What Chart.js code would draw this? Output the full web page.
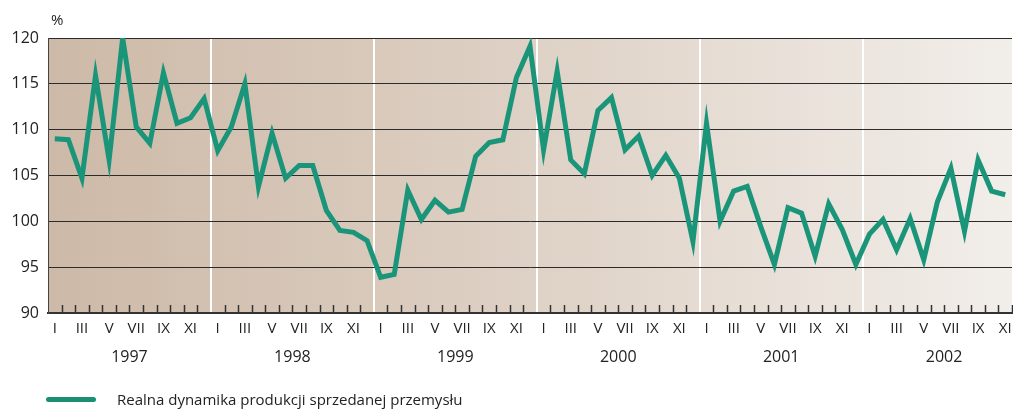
<!DOCTYPE html>
<html>
<head>
<meta charset="utf-8">
<script src="https://cdn.jsdelivr.net/npm/chart.js@4"></script>
<style>
  html, body { margin: 0; padding: 0; background: #fff; }
  #wrap { position: relative; width: 1013px; height: 410px; }
  canvas { position: absolute; left: 0; top: 0; }
  #pct { position: absolute; left: 51px; top: 9px; font: 15px "Open Sans", sans-serif; color: #222; }
  #legend { position: absolute; left: 46px; top: 389px; font: 15px "Open Sans", sans-serif; color: #222; display: flex; align-items: center; }
  #legend .sw { width: 50px; height: 5px; border-radius: 3px; background: #1b8f75; margin-right: 21px; }
</style>
</head>
<body>
<div id="wrap">
  <canvas id="c" width="1013" height="410"></canvas>
  <div id="pct">%</div>
  <div id="legend"><span class="sw"></span><span>Realna dynamika produkcji sprzedanej przemysłu</span></div>
</div>
<script>
const years = ["1997", "1998", "1999", "2000", "2001", "2002"];
const monthNames = ["I","II","III","IV","V","VI","VII","VIII","IX","X","XI","XII"];
const seriesName = "Realna dynamika produkcji sprzedanej przemysłu";
const v1997 = [109.0, 108.9, 104.7, 115.9, 106.7, 120.0, 110.3, 108.5, 116.2, 110.7, 111.3, 113.4];
const v1998 = [107.7, 110.3, 115.0, 103.8, 109.6, 104.7, 106.1, 106.1, 101.2, 99.0, 98.8, 97.9];
const v1999 = [93.9, 94.2, 103.4, 100.2, 102.3, 101.0, 101.3, 107.1, 108.6, 108.9, 115.7, 119.1];
const v2000 = [107.8, 116.4, 106.7, 105.2, 112.1, 113.5, 107.8, 109.3, 105.0, 107.2, 104.7, 97.8];
const v2001 = [110.7, 100.0, 103.3, 103.8, 99.4, 95.3, 101.5, 100.9, 96.2, 101.9, 99.1, 95.3];
const v2002 = [98.6, 100.2, 96.9, 100.3, 95.8, 102.1, 105.8, 98.9, 106.7, 103.3, 102.9];
const yTicks = [90, 95, 100, 105, 110, 115, 120];

const values = [].concat(v1997, v1998, v1999, v2000, v2001, v2002);
const labels = values.map((_, i) => monthNames[i % 12]);

const bgPlugin = {
  id: 'bg',
  beforeDraw(chart) {
    const {ctx, chartArea: a} = chart;
    const g = ctx.createLinearGradient(a.left, 0, a.right, 0);
    g.addColorStop(0, '#cdb9a7');
    g.addColorStop(0.5, '#ded1c5');
    g.addColorStop(1, '#f2eeea');
    ctx.save();
    ctx.fillStyle = g;
    ctx.fillRect(a.left, a.top, a.right - a.left, a.bottom - a.top);
    ctx.restore();
  }
};

const decoPlugin = {
  id: 'deco',
  afterDraw(chart) {
    const {ctx, chartArea: a} = chart;
    const x = chart.scales.x;
    const n = values.length;
    const half = (x.getPixelForValue(1) - x.getPixelForValue(0)) / 2;
    ctx.save();
    // small tick marks at month boundaries
    ctx.strokeStyle = '#333';
    ctx.lineWidth = 1.5;
    for (let i = 1; i <= n; i++) {
      if (i % 12 === 0) continue;
      const px = Math.round(x.getPixelForValue(i - 1) + half) + 0.5;
      ctx.beginPath();
      ctx.moveTo(px, a.bottom);
      ctx.lineTo(px, a.bottom - 8);
      ctx.stroke();
    }
    // year labels
    ctx.fillStyle = '#222';
    ctx.font = '16px "Open Sans", sans-serif';
    ctx.textAlign = 'center';
    ctx.textBaseline = 'middle';
    years.forEach((y, k) => {
      const cx = (x.getPixelForValue(k * 12 + 5) + x.getPixelForValue(k * 12 + 6)) / 2;
      ctx.fillText(y, cx, 357);
    });
    ctx.restore();
  }
};

new Chart(document.getElementById('c'), {
  type: 'line',
  data: {
    labels: labels,
    datasets: [{
      label: seriesName,
      data: values,
      borderColor: '#1b957a',
      borderWidth: 5,
      pointRadius: 0,
      tension: 0,
      borderJoinStyle: 'miter',
      fill: false
    }]
  },
  options: {
    responsive: false,
    animation: false,
    layout: { padding: { top: 38, right: 1, left: 0, bottom: 0 } },
    plugins: { legend: { display: false }, tooltip: { enabled: false } },
    scales: {
      x: {
        type: 'category',
        offset: true,
        afterFit(s) { s.height = 97; s.paddingLeft = 0; s.paddingRight = 0; },
        grid: {
          offset: true,
          drawTicks: false,
          lineWidth: 2,
          color(ctx) { return (ctx.index % 12 === 0 && ctx.index > 0 && ctx.index < values.length) ? '#ffffff' : 'rgba(0,0,0,0)'; }
        },
        border: { display: true, color: '#333', width: 2 },
        ticks: {
          autoSkip: false,
          maxRotation: 0,
          padding: 7,
          color: '#222',
          font: { family: 'Open Sans', size: 15 },
          callback(val, i) { return (i % 2 === 0) ? labels[i] : ''; }
        }
      },
      y: {
        min: 90, max: 120,
        afterFit(s) { s.width = 48; },
        afterBuildTicks(s) { s.ticks = yTicks.map(v => ({ value: v })); },
        grid: { color: '#2b2b2b', lineWidth: 1, drawTicks: false },
        border: { display: true, color: '#444', width: 1 },
        ticks: {
          padding: 9,
          color: '#222',
          font: { family: 'Open Sans', size: 16 }
        }
      }
    }
  },
  plugins: [bgPlugin, decoPlugin]
});
</script>
</body>
</html>
